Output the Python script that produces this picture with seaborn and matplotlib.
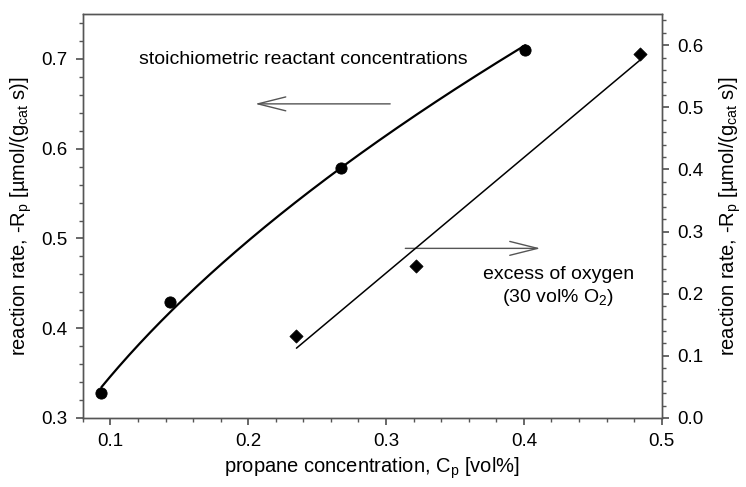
import numpy as np
import pandas as pd
import matplotlib
matplotlib.use("Agg")
import matplotlib.pyplot as plt
import seaborn as sns
from matplotlib.ticker import MultipleLocator, FormatStrFormatter

# data
stoich_c = [0.0935, 0.143, 0.267, 0.401]
stoich_r = [0.328, 0.429, 0.578, 0.710]
oxy_c = [0.235, 0.322, 0.484]
oxy_r = [0.132, 0.244, 0.586]

sns.set_theme(style="white")
plt.rcParams['font.family'] = ['Liberation Sans', 'DejaVu Sans']
plt.rcParams['mathtext.fontset'] = 'custom'
plt.rcParams['mathtext.rm'] = 'Liberation Sans'
plt.rcParams['mathtext.it'] = 'Liberation Sans'
plt.rcParams['text.color'] = 'black'
plt.rcParams['axes.labelcolor'] = 'black'

fig = plt.figure(figsize=(7.46, 4.87), dpi=100)
ax = fig.add_axes([0.111, 0.1417, 0.776, 0.8293])
ax2 = ax.twinx()

# fits
p = np.polyfit(np.log(stoich_c), np.log(stoich_r), 1)
xc = np.linspace(min(stoich_c), max(stoich_c), 200)
yc = np.exp(np.polyval(p, np.log(xc)))
q = np.polyfit(oxy_c, oxy_r, 1)
xl = np.array([min(oxy_c), max(oxy_c)])
yl = np.polyval(q, xl)

sns.lineplot(x=xc, y=yc, ax=ax, color='black', lw=1.6, sort=False)
sns.scatterplot(x=stoich_c, y=stoich_r, ax=ax, color='black', s=65, marker='o', edgecolor='black', zorder=5)
sns.lineplot(x=xl, y=yl, ax=ax2, color='black', lw=1.1, sort=False)
sns.scatterplot(x=oxy_c, y=oxy_r, ax=ax2, color='black', s=45, marker='D', edgecolor='black', zorder=5)

ax.set_xlim(0.08, 0.5)
ax.set_ylim(0.3, 0.75)
ax2.set_ylim(0.0, 0.65)

ax.xaxis.set_major_locator(MultipleLocator(0.1))
ax.xaxis.set_minor_locator(MultipleLocator(0.02))
ax.yaxis.set_major_locator(MultipleLocator(0.1))
ax.yaxis.set_minor_locator(MultipleLocator(0.02))
ax2.yaxis.set_major_locator(MultipleLocator(0.1))
ax2.yaxis.set_minor_locator(MultipleLocator(0.02))
ax.xaxis.set_major_formatter(FormatStrFormatter('%.1f'))
ax.yaxis.set_major_formatter(FormatStrFormatter('%.1f'))
ax2.yaxis.set_major_formatter(FormatStrFormatter('%.1f'))

for a in (ax, ax2):
    for s in a.spines.values():
        s.set_color('#555555')
        s.set_linewidth(1.0)
ax.tick_params(axis='both', which='major', direction='out', length=5, color='#555555',
               labelsize=13.5, labelcolor='black', bottom=True, left=True, pad=6)
ax.tick_params(axis='both', which='minor', direction='out', length=3, color='#555555',
               bottom=True, left=True)
ax2.tick_params(axis='y', which='major', direction='out', length=5, color='#555555',
                labelsize=13.5, labelcolor='black', right=True, pad=6)
ax2.tick_params(axis='y', which='minor', direction='out', length=3, color='#555555', right=True)

lab = 'reaction rate, -R$_\\mathregular{p}$ [µmol/(g$_\\mathregular{cat}$ s)]'
ax.set_xlabel('propane concentration, C$_\\mathregular{p}$ [vol%]', fontsize=14.5, labelpad=4)
ax.set_ylabel(lab, fontsize=14.5, labelpad=5)
ax2.set_ylabel(lab, fontsize=14.5, labelpad=10)

ax.text(0.24, 0.699, 'stoichiometric reactant concentrations', ha='center', va='center', fontsize=14)
ax.text(0.425, 0.446, 'excess of oxygen\n(30 vol% O$_\\mathregular{2}$)', ha='center', va='center',
        fontsize=14, multialignment='center', linespacing=1.3)

ax.annotate('', xy=(0.205, 0.65), xytext=(0.303, 0.65),
            arrowprops=dict(arrowstyle='->,head_length=2.0,head_width=0.5', color='#555555', lw=1.0,
                            mutation_scale=10, shrinkA=0, shrinkB=0))
ax.annotate('', xy=(0.412, 0.489), xytext=(0.314, 0.489),
            arrowprops=dict(arrowstyle='->,head_length=2.0,head_width=0.5', color='#555555', lw=1.0,
                            mutation_scale=10, shrinkA=0, shrinkB=0))

fig.savefig('out.png', dpi=100)
